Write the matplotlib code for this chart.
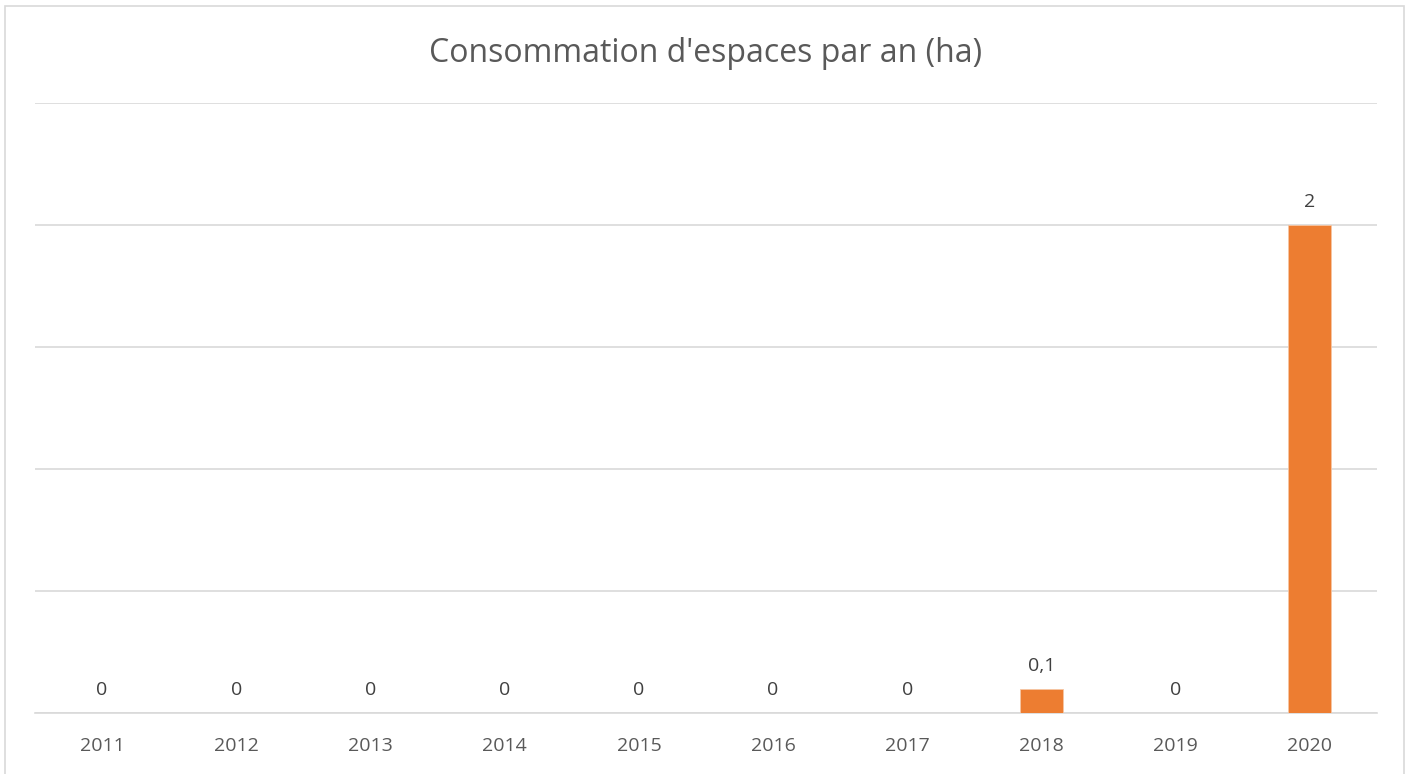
import matplotlib
matplotlib.use('Agg')
import matplotlib.pyplot as plt
from matplotlib.patches import Rectangle

years = ['2011', '2012', '2013', '2014', '2015', '2016', '2017', '2018', '2019', '2020']
values = [0, 0, 0, 0, 0, 0, 0, 0.1, 0, 2]
labels = ['0', '0', '0', '0', '0', '0', '0', '0,1', '0', '2']
title = "Consommation d'espaces par an (ha)"

plt.rcParams['font.family'] = ['Open Sans', 'DejaVu Sans']
txt = '#595959'

W, H = 1411, 774
fig = plt.figure(figsize=(W/100, H/100), dpi=100)
# outer chart border
fig.patches.append(Rectangle((4.5/W, -0.01), (1404-4.5)/W, 1.01-5.5/H, transform=fig.transFigure,
                             fill=False, ec='#d9d9d9', lw=1.2))
ax = fig.add_axes([35/W, (H-713)/H, (1377-35)/W, (713-103)/H])
x = range(len(years))
bars = ax.bar(x, values, width=0.32, color='#ED7D31', ec='#f6c6a3', lw=0.6, zorder=3)
ax.set_xlim(-0.5, len(years)-0.5)
ax.set_ylim(0, 2.5)
ax.set_yticks([0, 0.5, 1, 1.5, 2, 2.5])
ax.grid(axis='y', color='#d9d9d9', lw=1.2, zorder=0)
ax.tick_params(left=False, labelleft=False, bottom=False, pad=13.5)
ax.set_xticks(list(x), years, color=txt, fontsize=14)
for s in ['left', 'right', 'top']:
    ax.spines[s].set_visible(False)
ax.spines['bottom'].set_color('#d9d9d9'); ax.spines['bottom'].set_linewidth(1.2)
for i, (v, lab) in enumerate(zip(values, labels)):
    ax.annotate(lab, (i, v), xytext=(0, 10), textcoords='offset points', ha='center', va='bottom',
                color='#404040', fontsize=14)
fig.text(0.5, (H-53)/H, title, ha='center', va='center', color=txt, fontsize=23)
fig.savefig('out.png', dpi=100)
